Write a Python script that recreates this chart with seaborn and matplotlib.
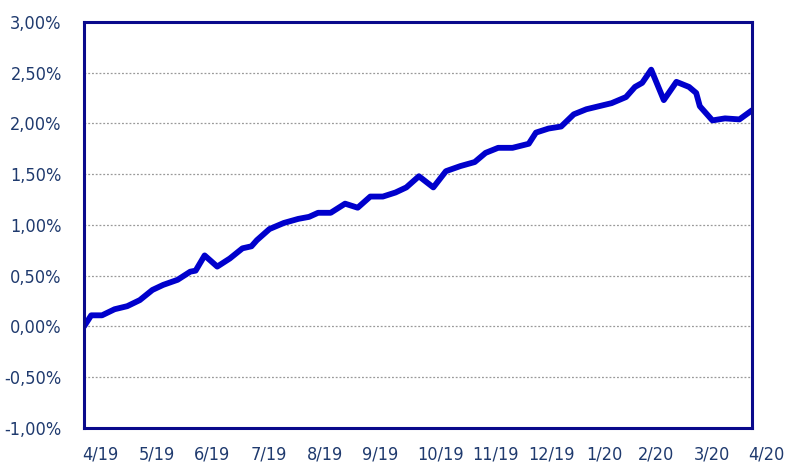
import numpy as np
import pandas as pd
import matplotlib.pyplot as plt
import seaborn as sns

# dias desde o início da série (semanal, com alguns pontos extras)
dias = [0, 4, 10, 17, 24, 31, 38, 44, 52, 59, 62, 67, 74, 81, 88, 93, 96, 103,
        111, 119, 125, 130, 137, 145, 152, 159, 166, 173, 179, 186, 194, 201,
        209, 217, 223, 230, 238, 247, 251, 258, 265, 272, 279, 286, 293, 301,
        306, 310, 315, 322, 329, 336, 340, 342, 349, 356, 364, 371]

# valor em %
valores = [0.00, 0.11, 0.11, 0.17, 0.20, 0.26, 0.36, 0.41, 0.46, 0.54, 0.55,
           0.70, 0.59, 0.67, 0.77, 0.79, 0.85, 0.96, 1.02, 1.06, 1.08, 1.12,
           1.12, 1.21, 1.17, 1.28, 1.28, 1.32, 1.37, 1.48, 1.37, 1.53, 1.58,
           1.62, 1.71, 1.76, 1.76, 1.80, 1.91, 1.95, 1.97, 2.09, 2.14, 2.17,
           2.20, 2.26, 2.36, 2.40, 2.53, 2.23, 2.41, 2.36, 2.30, 2.17, 2.03,
           2.05, 2.04, 2.13]

meses = ['4/19', '5/19', '6/19', '7/19', '8/19', '9/19', '10/19', '11/19',
         '12/19', '1/20', '2/20', '3/20', '4/20']

# posição dos rótulos de mês (em dias)
pos_meses = [8.9, 40.5, 71.1, 102.7, 133.9, 164.4, 198.3, 228.8, 259.9,
             288.8, 317.7, 348.8, 378.8]

df = pd.DataFrame({'dia': dias, 'valor': valores})

sns.set_style("white")
plt.rcParams['font.family'] = ['DejaVu Sans']
plt.rcParams['font.stretch'] = 'condensed'

cor_texto = '#1f3a6e'
cor_borda = '#0a0a8c'

fig = plt.figure(figsize=(7.85, 4.67), dpi=100)
ax = fig.add_axes([0.107, 0.0835, 0.851, 0.8695])

sns.lineplot(data=df, x='dia', y='valor', color='#0000cc', linewidth=4.2, ax=ax)

ax.set_xlim(0, 371)
ax.set_ylim(-1, 3)
yt = np.arange(-1, 3.01, 0.5)
ax.set_yticks(yt)
ax.set_yticklabels([f'{v:.2f}%'.replace('.', ',') for v in yt],
                   fontsize=13, color=cor_texto, fontstretch='condensed')
ax.tick_params(axis='y', length=0, pad=16)
ax.set_xticks([])
ax.set_xlabel('')
ax.set_ylabel('')

# linhas de grade pontilhadas
for v in np.arange(-0.5, 2.51, 0.5):
    ax.axhline(v, color='#999999', linestyle=(0, (1.5, 1.5)), linewidth=0.9, zorder=0)

for s in ax.spines.values():
    s.set_color(cor_borda)
    s.set_linewidth(2.2)

# rótulos dos meses abaixo do gráfico
for p, m in zip(pos_meses, meses):
    ax.text(p, -0.066, m, transform=ax.get_xaxis_transform(), ha='center', va='center',
            fontsize=13, color=cor_texto, fontstretch='condensed')

fig.savefig('out.png', dpi=100)
